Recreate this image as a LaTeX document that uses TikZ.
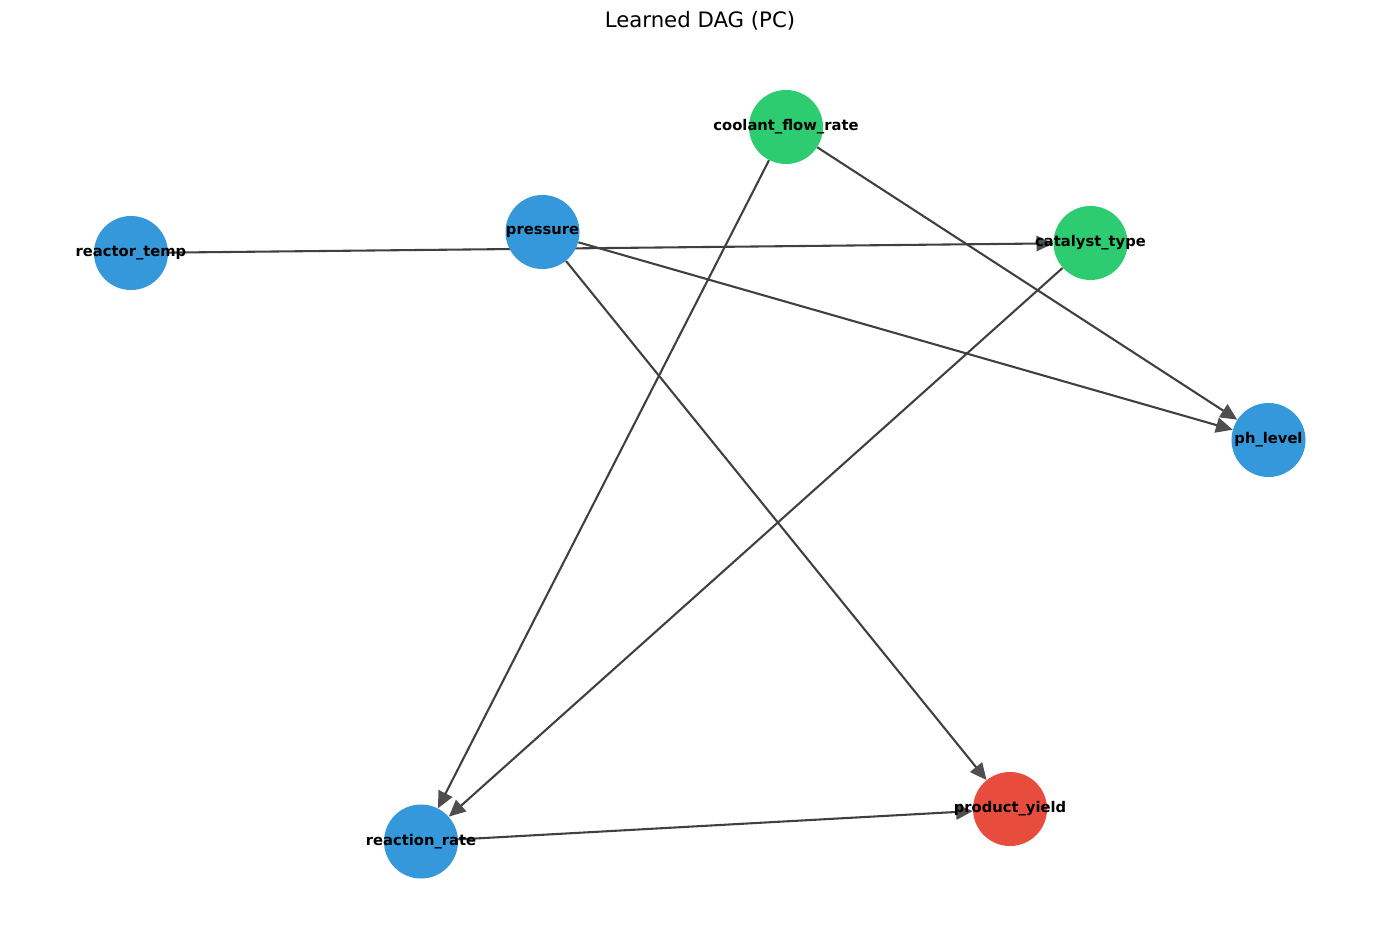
\documentclass[tikz,border=0pt]{standalone}
\usepackage{fontspec}
\setmainfont{DejaVu Sans}
\usetikzlibrary{arrows.meta}
\pgfdeclarelayer{bg}
\pgfsetlayers{bg,main}
\definecolor{nblue}{HTML}{3498DB}
\definecolor{ngreen}{HTML}{2ECC71}
\definecolor{nred}{HTML}{E74C3C}
\definecolor{edgecol}{RGB}{64,64,64}
\definecolor{headcol}{RGB}{78,78,78}
\begin{document}
\begin{tikzpicture}[x=0.72pt,y=-0.72pt,
  vnode/.style={circle,inner sep=0pt,minimum size=53.3pt,draw=none},
  lbl/.style={font=\bfseries\fontsize{10.6}{12}\selectfont,text=black,inner sep=0pt},
  edge/.style={draw=edgecol,line width=1.5pt,-{Triangle[length=12pt,width=11pt,color=headcol]}}]
\useasboundingbox (0,0) rectangle (1400,929);
\node (title) at (700,21) {\fontsize{15.3}{18}\selectfont Learned DAG (PC)};
% nodes
\node[vnode,fill=ngreen] (cf) at (786,127) {};
\node[vnode,fill=nblue] (pr) at (542.5,232) {};
\node[vnode,fill=nblue] (rt) at (131,253) {};
\node[vnode,fill=ngreen] (ct) at (1090.5,243) {};
\node[vnode,fill=nblue] (ph) at (1268.5,440) {};
\node[vnode,fill=nblue] (rr) at (421,841.5) {};
\node[vnode,fill=nred] (py) at (1010,809) {};
% edges
\begin{pgfonlayer}{bg}
\draw[edge] (rt) -- (ct);
\draw[edge] (pr) -- (ph);
\draw[edge] (pr) -- (py);
\draw[edge] (cf) -- (rr);
\draw[edge] (cf) -- (ph);
\draw[edge] (ct) -- (rr);
\draw[edge] (rr) -- (py);
\end{pgfonlayer}
% labels
\node[lbl] (cfL) at (cf) {coolant\_flow\_rate};
\node[lbl] (prL) at (pr) {pressure};
\node[lbl] (rtL) at (rt) {reactor\_temp};
\node[lbl] (ctL) at (ct) {catalyst\_type};
\node[lbl] (phL) at (ph) {ph\_level};
\node[lbl] (rrL) at (rr) {reaction\_rate};
\node[lbl] (pyL) at (py) {product\_yield};
\end{tikzpicture}
\end{document}
